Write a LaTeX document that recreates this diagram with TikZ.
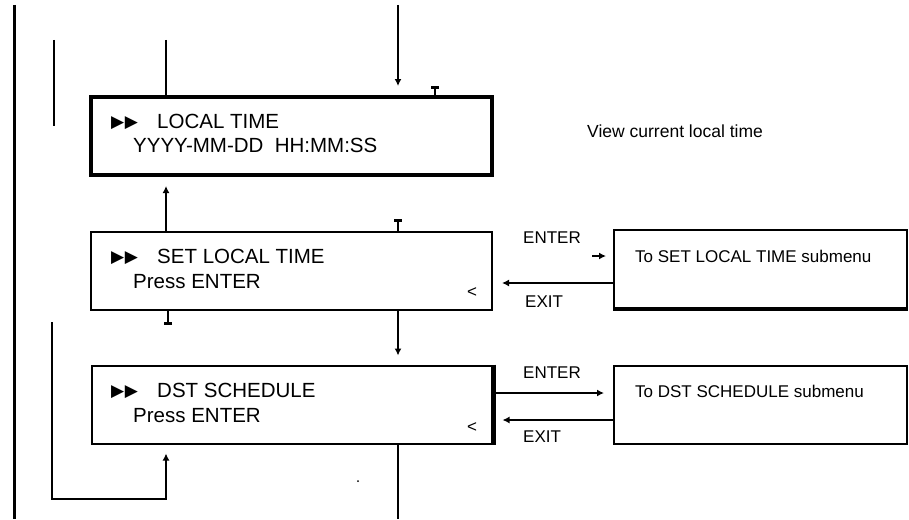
\documentclass[tikz,border=0pt]{standalone}
\usepackage{fontspec}
\setmainfont{Liberation Sans}
\newfontfamily\symfont{DejaVu Sans}
\usetikzlibrary{arrows.meta}
\newcommand{\boxfont}{\fontsize{20.5}{24}\selectfont}
\newcommand{\lblfont}{\fontsize{17}{20}\selectfont}
\newcommand{\selmarks}{{\symfont\fontsize{17}{17}\selectfont ▶\kern0.5pt▶}}

\begin{document}
\begin{tikzpicture}[x=1pt, y=-1pt, >={Latex[length=7pt,width=7pt]},
  menubox/.style={draw, line width=2pt, rectangle, minimum width=401pt, minimum height=78pt, inner sep=0pt},
  subbox/.style={draw, line width=2pt, rectangle, minimum width=293pt, minimum height=78pt, inner sep=0pt},
  txt/.style={anchor=base west, inner sep=0pt, font=\boxfont},
  lbl/.style={anchor=base west, inner sep=0pt, font=\lblfont},
  wire/.style={line width=1.8pt},
  flow/.style={->, line width=1.8pt, shorten >=9pt},
  stub/.style={-{Bar[width=8pt,line width=3pt]}, line width=2pt}]
  \useasboundingbox (0,0) rectangle (909,519);

  % menu screens
  \node[menubox, line width=4pt] (lt) at (291.5,136) {};
  \node[menubox] (set) at (291.5,271) {};
  \node[menubox] (dst) at (292,404.5) {};
  \node[subbox] (subset) at (760.5,269) {};
  \node[subbox] (subdst) at (760.5,404.5) {};
  \draw[line width=4.5pt] (dst.north east) -- (dst.south east);
  \draw[line width=4.5pt] (subset.south west) -- (subset.south east);

  % screen texts
  \node[txt] (ltmark) at (111,127) {\selmarks};
  \node[txt] (lttitle) at (157,128) {LOCAL TIME};
  \node[txt] (ltvalue) at (133,152) {YYYY-MM-DD\ \ HH:MM:SS};
  \node[txt] (setmark) at (111,262) {\selmarks};
  \node[txt] (settitle) at (157,263) {SET LOCAL TIME};
  \node[txt] (setpress) at (133,288) {Press ENTER};
  \node[lbl] (setnav) at (467,297) {<};
  \node[txt] (dstmark) at (111,396) {\selmarks};
  \node[txt] (dsttitle) at (157,397) {DST SCHEDULE};
  \node[txt] (dstpress) at (133,422) {Press ENTER};
  \node[lbl] (dstnav) at (467,432) {<};
  \node[lbl] (subsettxt) at (635,262) {To SET LOCAL TIME submenu};
  \node[lbl] (subdsttxt) at (635,397) {To DST SCHEDULE submenu};
  \node[lbl, font=\fontsize{17.5}{20}\selectfont] (viewtxt) at (587,137) {View current local time};

  % free ends
  \coordinate (farA) at (14,5);
  \coordinate (farB) at (14,519);
  \coordinate (nearA) at (54,40);
  \coordinate (nearB) at (54,126);
  \coordinate (topleft) at (166,40);
  \coordinate (topin) at (398,5);
  \coordinate (tickA) at (435,86);
  \coordinate (tickB) at (398,219);
  \coordinate (tickC) at (168,325);
  \coordinate (loopA) at (52,322);
  \coordinate (loopB) at (166,499);
  \coordinate (botout) at (398,519);
  \coordinate (enterA) at (592,256);

  \draw[wire, line width=3pt] (farA) -- (farB);
  \draw[wire] (nearA) -- (nearB);
  \draw[wire] (topleft) -- (topleft |- lt.north);
  \draw[flow] (topin) -- (topin |- lt.north);
  \draw[stub] (tickA |- lt.north) -- (tickA);
  \draw[flow] (loopB |- set.north) -- (loopB |- lt.south);
  \draw[stub] (tickB |- set.north) -- (tickB);
  \draw[stub] (tickC |- set.south) -- (tickC);
  \draw[flow] (topin |- set.south) -- (topin |- dst.north);
  \draw[flow] (loopA) |- (loopB) -- (loopB |- dst.south);
  \draw[wire] (topin |- dst.south) -- (botout);
  \fill (358,481) circle (1pt);

  % submenu links
  \draw[flow, shorten >=7pt] (enterA) -- (enterA -| subset.west);
  \draw[flow] (subset.west |- 0,283) -- (set.east |- 0,283);
  \draw[flow] (dst.east |- 0,393) -- (subdst.west |- 0,393);
  \draw[flow] (subdst.west |- 0,420) -- (dst.east |- 0,420);
  \node[lbl] (enterset) at (523,243) {ENTER};
  \node[lbl] (exitset) at (525,307) {EXIT};
  \node[lbl] (enterdst) at (523,378) {ENTER};
  \node[lbl] (exitdst) at (523,442) {EXIT};
\end{tikzpicture}
\end{document}
